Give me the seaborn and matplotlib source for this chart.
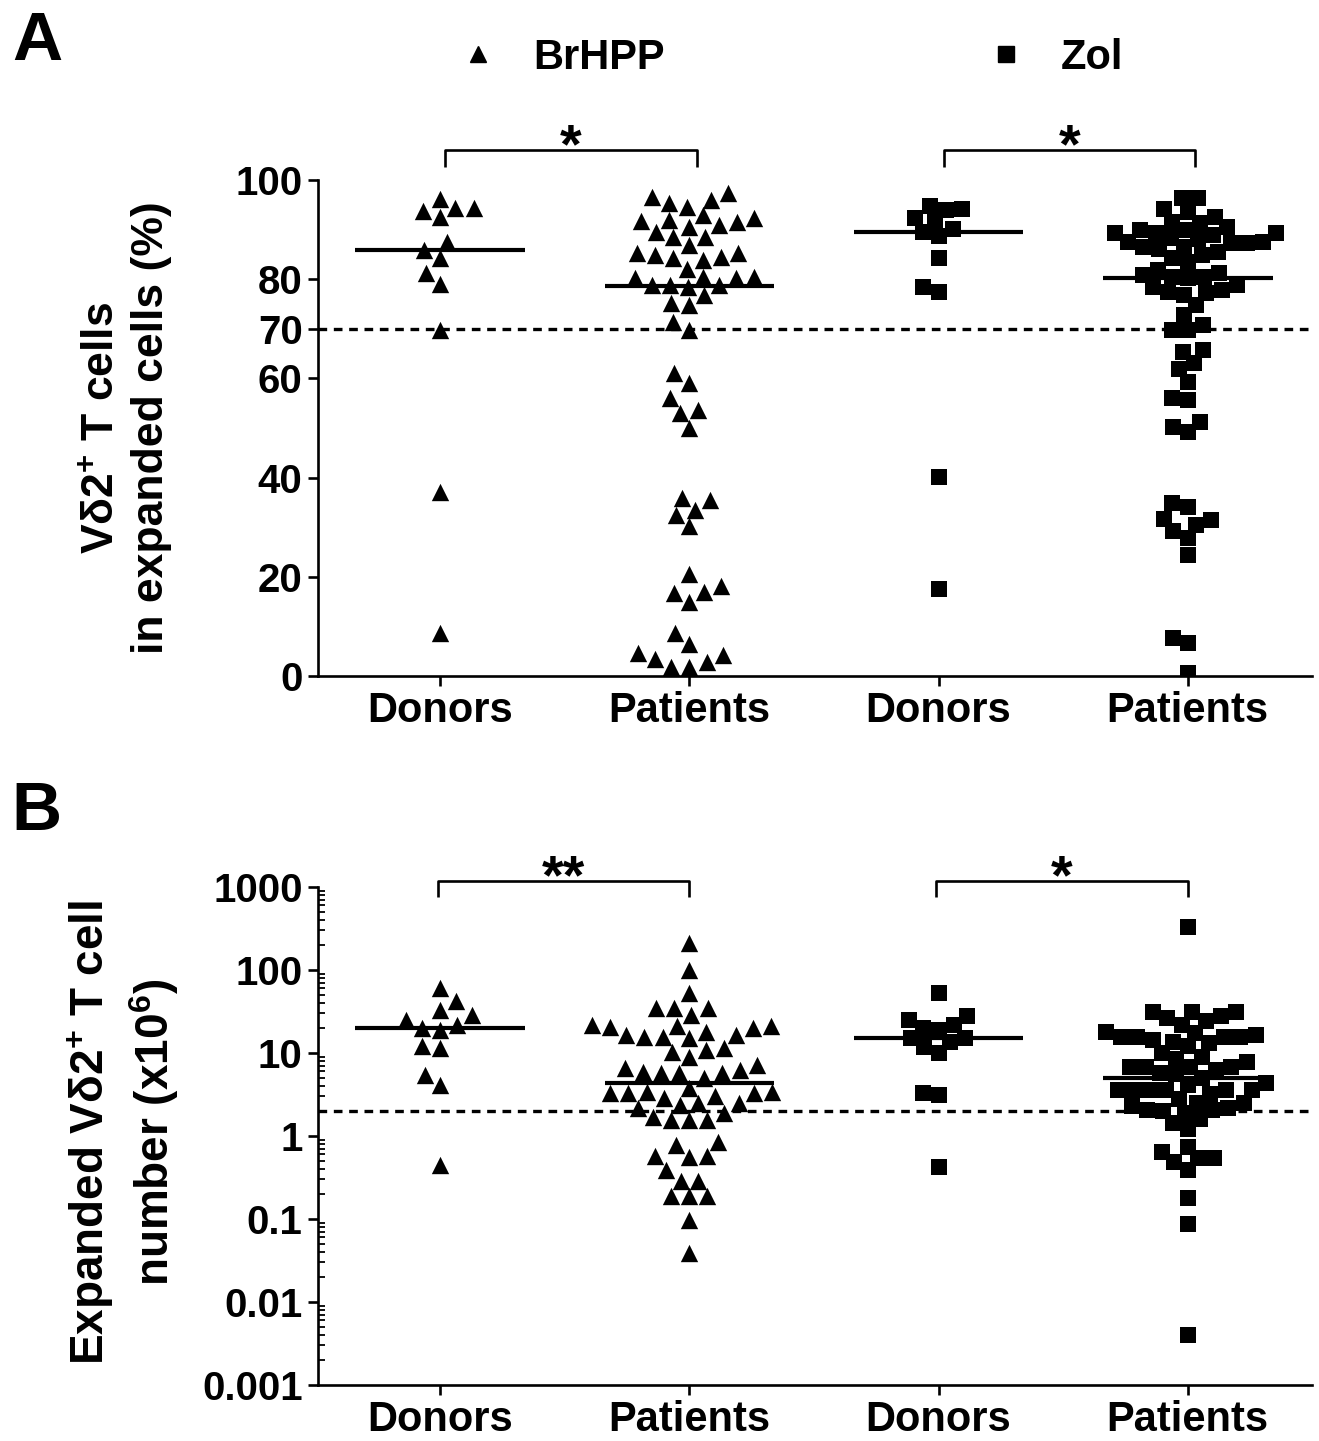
"""
Vd2+ T cell expansion — donors vs patients, BrHPP vs Zol
"""

import matplotlib
matplotlib.use('Agg')
import matplotlib.pyplot as plt
from matplotlib.lines import Line2D
from matplotlib.ticker import LogLocator, NullFormatter
import seaborn as sns
import numpy as np
import pandas as pd
import warnings

warnings.filterwarnings('ignore')

# ---- data ----
ORDER = ['BrHPP Donors', 'BrHPP Patients', 'Zol Donors', 'Zol Patients']
XLABELS = ['Donors', 'Patients', 'Donors', 'Patients']
DRUGS = ['BrHPP', 'Zol']

# panel A: % Vd2+ T cells in expanded cells
A_BRHPP_DONORS = [94.4, 93.8, 92.5, 94.4, 96.2, 87.5, 84.3, 85.9, 81.3, 79.0, 69.8, 37.1, 8.7]
A_BRHPP_PATIENTS = [97.4, 96.0, 94.6, 95.4, 96.6, 92.9,
                    91.9, 91.5, 90.5, 90.9, 91.7, 92.3,
                    88.5, 89.5, 88.5,
                    85.3, 84.5, 85.3, 84.9, 86.9, 84.3,
                    83.9, 82.1,
                    78.8, 80.4, 78.8, 80.2, 80.2, 80.4, 78.4, 78.8,
                    76.8, 74.8, 75.2, 71.4, 69.8,
                    59.1, 61.1, 56.0, 53.6, 53.0, 50.0,
                    35.9, 33.5, 35.5, 32.5, 30.2,
                    20.6, 16.9, 14.9, 16.7, 18.1,
                    8.7, 6.5, 4.2, 2.8, 1.8, 1.8, 3.4, 4.6]
A_ZOL_DONORS = [92.3, 94.2, 94.0, 94.8, 91.7, 90.1, 88.7, 89.6, 84.3, 77.4, 78.4, 40.1, 17.5]
A_ZOL_PATIENTS = [96.4, 96.4, 94.2, 93.5, 92.5,
                  91.3, 91.5, 89.3, 89.3, 87.3, 87.5, 87.5, 88.9, 89.3, 89.9, 89.9,
                  88.3, 87.3, 84.9, 84.3, 86.5, 86.5, 83.5, 85.5, 86.0, 88.0, 90.5,
                  81.3, 80.4, 80.4, 80.2, 80.8, 81.9,
                  77.8, 77.2, 78.4, 78.8, 76.8, 77.4,
                  74.8, 72.8, 70.8, 69.8, 69.8,
                  65.7, 65.3, 63.1, 59.3, 61.9, 55.6, 56.0, 51.2, 50.2, 49.2,
                  31.7, 30.4, 34.1, 29.2, 34.9, 31.5, 27.8, 24.4,
                  7.7, 6.7, 0.6]
A_THRESHOLD = 70
A_TICKS = [0, 20, 40, 60, 70, 80, 100]

# panel B: expanded Vd2+ T cell number (x10^6)
B_BRHPP_DONORS = [60.7, 42.3, 33.0, 28.7, 25.0, 21.7, 18.9, 20.0, 11.5, 12.2, 5.4, 4.1, 0.45]
B_BRHPP_PATIENTS = [211, 100, 52.8,
                    34.8, 34.8, 28.7, 34.8,
                    20.0, 21.2, 21.2, 20.6, 21.7, 17.9, 16.5, 15.6, 15.2, 15.6, 16.5,
                    10.8, 8.9, 10.3, 11.5,
                    5.0, 5.9, 6.6, 5.7, 6.2, 5.7, 7.2, 5.7,
                    3.4, 2.9, 3.3, 3.3, 3.3, 3.0, 3.4, 3.8,
                    2.5, 2.5, 2.36, 2.2,
                    1.7, 1.56, 1.56, 1.56, 1.9,
                    0.78, 0.85, 0.57, 0.57, 0.56, 0.39, 0.29, 0.29, 0.19, 0.19, 0.19,
                    0.097, 0.039]
B_ZOL_DONORS = [52.8, 27.9, 25.0, 21.7, 20.0, 18.9, 13.6, 15.2, 11.8, 15.2, 10.0, 3.3, 3.1, 0.42]
B_ZOL_PATIENTS = [330,
                  31, 26, 31, 31, 22, 28, 24,
                  15.6, 14.3, 13.6, 15.6, 16.5, 15.6, 15.6, 13.2, 17.4, 12, 18,
                  10, 8.5, 6.8, 6.2, 5.7, 7.8, 6.8, 6.8, 6.8, 9, 5.5,
                  5.0,
                  4.1, 3.6, 3.6, 3.6, 3.6, 3.6, 3.6, 4.4, 3.2,
                  2.5, 2.06, 1.9, 2.5, 2.06, 2.2, 2.3, 2.8, 2.0,
                  1.43, 1.6, 1.2,
                  0.74, 0.54, 0.49, 0.54, 0.64, 0.39, 0.18, 0.087, 0.004]
B_THRESHOLD = 2
B_TICKS = [0.001, 0.01, 0.1, 1, 10, 100, 1000]
B_TICKLABELS = ['0.001', '0.01', '0.1', '1', '10', '100', '1000']

# significance: (left group idx, right group idx, stars)
A_SIG = [(0, 1, '*'), (2, 3, '*')]
B_SIG = [(0, 1, '**'), (2, 3, '*')]


def long_frame(values):
    rows = []
    for name, vals in zip(ORDER, values):
        for v in vals:
            rows.append({'set': name, 'drug': name.split()[0], 'value': v})
    return pd.DataFrame(rows)


df_a = long_frame([A_BRHPP_DONORS, A_BRHPP_PATIENTS, A_ZOL_DONORS, A_ZOL_PATIENTS])
df_b = long_frame([B_BRHPP_DONORS, B_BRHPP_PATIENTS, B_ZOL_DONORS, B_ZOL_PATIENTS])

# ---- style ----
sns.set_style('ticks')
plt.rcParams['font.family'] = ['Liberation Sans', 'DejaVu Sans']
plt.rcParams['font.weight'] = 'bold'
plt.rcParams['mathtext.fontset'] = 'custom'
plt.rcParams['mathtext.rm'] = 'Liberation Sans:bold'
plt.rcParams['mathtext.bf'] = 'Liberation Sans:bold'
plt.rcParams['mathtext.default'] = 'bf'
for key in ['text.color', 'axes.labelcolor', 'xtick.color', 'ytick.color', 'axes.edgecolor']:
    plt.rcParams[key] = 'black'

MARKERS = {'BrHPP': '^', 'Zol': 's'}
SIZES = {'BrHPP': 12.5, 'Zol': 11}
TICK_FS = 29
LABEL_FS = 32
LW = 1.9

fig = plt.figure(figsize=(13.19, 14.41), dpi=100)
ax_a = fig.add_axes([0.241, 0.5309, 0.754, 0.3442])
ax_b = fig.add_axes([0.241, 0.0389, 0.754, 0.3456])


def draw_panel(ax, df, log=False):
    if log:
        ax.set_yscale('log')
    for drug in DRUGS:
        sub = df[df['drug'] == drug]
        sns.swarmplot(data=sub, x='set', y='value', order=ORDER, ax=ax,
                      marker=MARKERS[drug], color='black', size=SIZES[drug],
                      linewidth=0, native_scale=False)
    # median bars
    meds = df.groupby('set')['value'].median().reindex(ORDER)
    for i, m in enumerate(meds.values):
        ax.hlines(m, i - 0.34, i + 0.34, color='black', lw=3, zorder=4)
    ax.set_xlim(-0.49, 3.5)
    ax.set_xticks(range(len(ORDER)))
    ax.set_xticklabels(XLABELS, fontsize=30, fontweight='bold')
    ax.set_xlabel('')
    for side in ['top', 'right']:
        ax.spines[side].set_visible(False)
    for side in ['left', 'bottom']:
        ax.spines[side].set_linewidth(LW)
    ax.tick_params(axis='both', which='major', direction='out', length=7, width=LW,
                   color='black', pad=4)
    ax.tick_params(axis='y', labelsize=TICK_FS)


def draw_bracket(ax, i, j, text, y_line, y_tip):
    ax.plot([i, i, j, j], [y_tip, y_line, y_line, y_tip], color='black', lw=LW,
            clip_on=False, solid_capstyle='butt')
    ax.annotate(text, xy=((i + j) / 2, y_line), xytext=(0, -9), textcoords='offset points',
                ha='center', va='baseline', fontsize=40, fontweight='bold',
                annotation_clip=False)


# ---- panel A ----
draw_panel(ax_a, df_a)
ax_a.axhline(A_THRESHOLD, color='black', lw=2.4, ls=(0, (2.6, 2.0)), zorder=1)
ax_a.set_ylim(0, 100)
ax_a.set_yticks(A_TICKS)
ax_a.set_yticklabels([str(t) for t in A_TICKS], fontsize=TICK_FS, fontweight='bold')
ax_a.set_ylabel('V\u03b42$^{+}$ T cells\nin expanded cells (%)', fontsize=LABEL_FS,
                fontweight='bold', linespacing=1.25)
ax_a.yaxis.set_label_coords(-0.147, 0.5)
for i, j, s in A_SIG:
    draw_bracket(ax_a, i + 0.02, j + 0.03, s, 106.0, 102.6)

# ---- panel B ----
draw_panel(ax_b, df_b, log=True)
ax_b.axhline(B_THRESHOLD, color='black', lw=2.4, ls=(0, (2.6, 2.0)), zorder=1)
ax_b.set_ylim(0.001, 1000)
ax_b.set_yticks(B_TICKS)
ax_b.set_yticklabels(B_TICKLABELS, fontsize=TICK_FS, fontweight='bold')
ax_b.yaxis.set_minor_locator(LogLocator(base=10, subs=np.arange(2, 10)))
ax_b.yaxis.set_minor_formatter(NullFormatter())
ax_b.tick_params(axis='y', which='minor', direction='in', length=5, width=1.3)
ax_b.set_ylabel('Expanded V\u03b42$^{+}$ T cell\nnumber (x10$^{6}$)', fontsize=LABEL_FS + 1,
                fontweight='bold', linespacing=1.25)
ax_b.yaxis.set_label_coords(-0.138, 0.508)
for i, j, s in B_SIG:
    draw_bracket(ax_b, i - 0.01, j, s, 1181, 758)

# ---- legend & panel letters ----
handles = [Line2D([], [], marker=MARKERS[d], color='black', ls='none', markersize=11)
           for d in DRUGS]
fig.legend(handles, DRUGS, loc='center left', bbox_to_anchor=(0.318, 0.960),
           ncol=2, frameon=False, prop={'size': 30, 'weight': 'bold'},
           handlelength=1.0, handletextpad=0.82, columnspacing=7.7)

fig.text(0.009, 0.993, 'A', fontsize=50, fontweight='bold', va='top', ha='left')
fig.text(0.009, 0.459, 'B', fontsize=50, fontweight='bold', va='top', ha='left')

plt.savefig('out.png', dpi=100)
plt.close()
